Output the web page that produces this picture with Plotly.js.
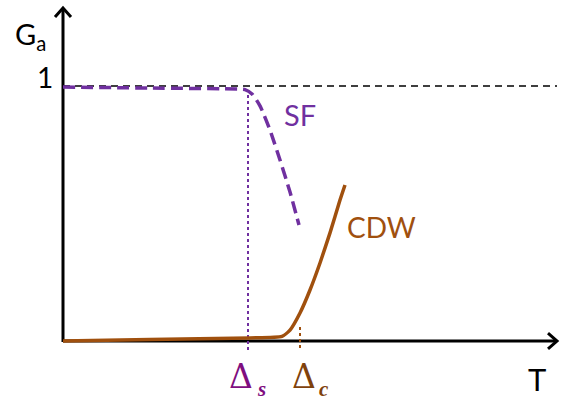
<!DOCTYPE html>
<html><head><meta charset="utf-8">
<script src="https://cdn.plot.ly/plotly-3.0.1.min.js"></script>
<style>html,body{margin:0;padding:0;background:#fff}</style>
</head><body>
<div id="chart" style="width:571px;height:403px"></div>
<script>
// Data (T in arbitrary units, G_a normalized)
const sfT = [0, 0.87, 1.77, 1.82, 1.89, 1.97, 2.07, 2.17, 2.27, 2.36];
const sfG = [0.996, 0.992, 0.988, 0.986, 0.969, 0.922, 0.827, 0.710, 0.584, 0.455];
const cdwT = [0, 0.87, 1.87, 2.19, 2.27, 2.37, 2.47, 2.57, 2.67, 2.77, 2.82];
const cdwG = [0, 0.006, 0.012, 0.018, 0.043, 0.110, 0.200, 0.306, 0.424, 0.553, 0.612];
const refLevel = 1;
const deltaS = 1.85;
const deltaC = 2.37;
const labels = {ga: 'G<sub>a</sub>', one: '1', sf: 'SF', cdw: 'CDW', t: 'T', delta: 'Δ', s: 's', c: 'c'};

const purple = '#7030A0';
const brown = '#A0500E';
const xMax = 4.94, yMax = 1.306;

const traces = [
  {x:[0, xMax], y:[refLevel, refLevel], mode:'lines', line:{color:'#000', width:1.5, dash:'7px,5px'}, hoverinfo:'skip'},
  {x:[deltaS, deltaS], y:[0.965, -0.043], mode:'lines', line:{color:purple, width:2, dash:'dot'}, hoverinfo:'skip'},
  {x:[deltaC, deltaC], y:[0.055, -0.03], mode:'lines', line:{color:brown, width:2, dash:'dot'}, hoverinfo:'skip'},
  {x:sfT, y:sfG, mode:'lines', line:{color:purple, width:3.5, dash:'12px,6px', shape:'spline', smoothing:0.6}, hoverinfo:'skip'},
  {x:cdwT, y:cdwG, mode:'lines', line:{color:brown, width:3.5, shape:'spline', smoothing:0.5}, hoverinfo:'skip'}
];

const shapes = [
  {type:'line', x0:0, y0:0, x1:xMax, y1:0, line:{color:'#000', width:3}, layer:'below'},
  {type:'line', x0:0, y0:-0.004, x1:0, y1:yMax, line:{color:'#000', width:3}, layer:'below'},
  {type:'path', path:`M ${xMax-0.09} 0.031 L ${xMax} 0 L ${xMax-0.09} -0.031`, line:{color:'#000', width:3}},
  {type:'path', path:`M -0.08 ${yMax-0.035} L 0 ${yMax} L 0.08 ${yMax-0.035}`, line:{color:'#000', width:3}}
];

const f = 'Lato, Open Sans, sans-serif';
const serif = 'Liberation Serif, Times New Roman, serif';
const dserif = 'DejaVu Serif, serif';
const sCol = '#7F0E80', cCol = '#7F420C';
const annotations = [
  {x:-0.33, y:1.20, text:labels.ga, showarrow:false, font:{family:f, size:29, color:'#000'}},
  {x:-0.18, y:1.035, text:labels.one, showarrow:false, font:{family:f, size:28, color:'#000'}},
  {x:2.37, y:0.890, text:labels.sf, showarrow:false, font:{family:f, size:29, color:purple}},
  {x:3.18, y:0.447, text:labels.cdw, showarrow:false, font:{family:f, size:28, color:brown}},
  {x:4.74, y:-0.150, text:labels.t, showarrow:false, font:{family:f, size:31, color:'#000'}},
  {x:1.775, y:-0.140, text:labels.delta, showarrow:false, font:{family:dserif, size:33, color:sCol}},
  {x:1.985, y:-0.242, yanchor:'bottom', text:'<b><i>'+labels.s+'</i></b>', showarrow:false, font:{family:serif, size:21, color:sCol}},
  {x:2.41, y:-0.140, text:labels.delta, showarrow:false, font:{family:dserif, size:33, color:cCol}},
  {x:2.605, y:-0.242, yanchor:'bottom', text:'<b><i>'+labels.c+'</i></b>', showarrow:false, font:{family:serif, size:21, color:cCol}}
];

const layout = {
  width:571, height:403,
  margin:{l:0, r:0, t:0, b:0},
  paper_bgcolor:'#fff', plot_bgcolor:'#fff',
  showlegend:false,
  xaxis:{range:[-0.63, 5.08], visible:false, fixedrange:true},
  yaxis:{range:[-0.2431, 1.3373], visible:false, fixedrange:true},
  shapes:shapes,
  annotations:annotations
};
Plotly.newPlot('chart', traces, layout, {staticPlot:true, displayModeBar:false});
</script>
</body></html>
